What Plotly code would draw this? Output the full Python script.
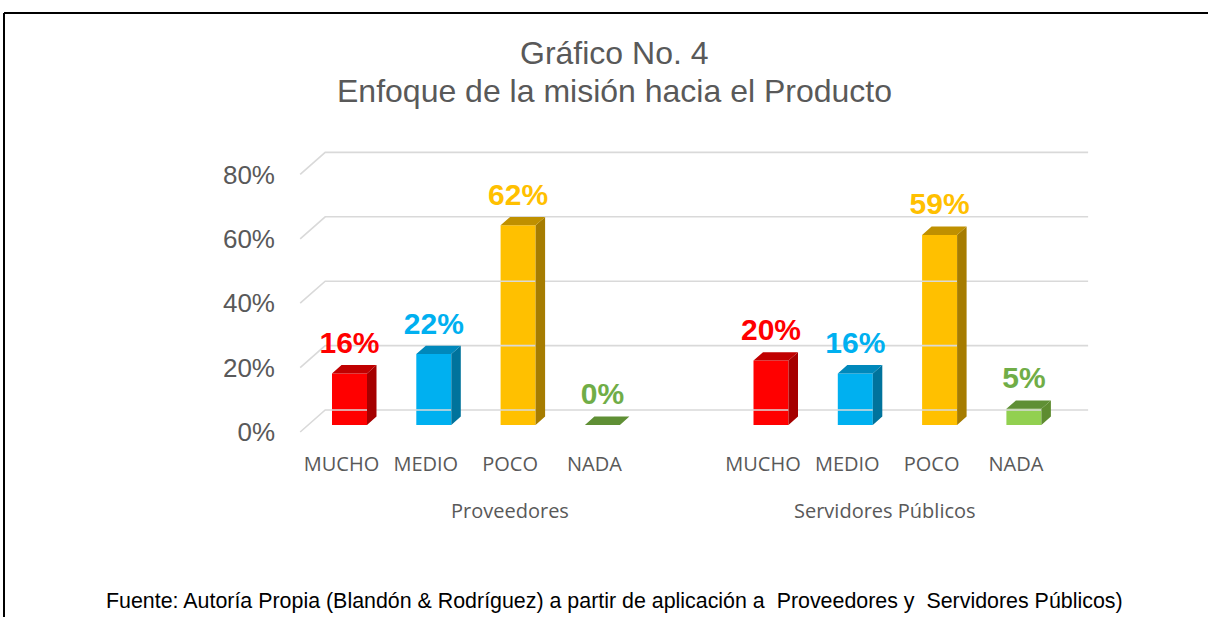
import plotly.graph_objects as go

# ---------------- data ----------------
groups = ["Proveedores", "Servidores Públicos"]
categories = ["MUCHO", "MEDIO", "POCO", "NADA"]
proveedores = [16, 22, 62, 0]
servidores = [20, 16, 59, 5]
y_ticks = [0, 20, 40, 60, 80]
title_lines = ["Gráfico No. 4", "Enfoque de la misión hacia el Producto"]
source_note = ("Fuente: Autoría Propia (Blandón & Rodríguez) a partir de aplicación a  "
               "Proveedores y  Servidores Públicos)")

# ---------------- styles ----------------
front_colors = ["#FF0000", "#00B0F0", "#FFC000", "#92D050"]
side_colors = ["#A50000", "#00739C", "#A67C00", "#5E8C30"]
top_colors = ["#C00000", "#0088BB", "#BF9000", "#5F8F35"]
label_colors = ["#FF0000", "#00B0F0", "#FFC000", "#70AD47"]
GRID = "#D9D9D9"
TXT = "#595959"

W, H = 1208, 617
PX_CAT = 84.3          # pixels per category slot
X0_PX = 341.5          # pixel x of first category (front plane)
Y0_PX = 432            # pixel y of 0% (front plane)
PX_PCT = 3.22          # pixels per percent
DEPTH_X = 25 / PX_CAT  # floor depth, x units
DEPTH_Y = 22 / PX_PCT  # floor depth, y units
BAR_D0, BAR_D1 = 0.32, 0.70
BAR_W = 35 / PX_CAT
GAP = 1
FLOOR_L, FLOOR_R = -0.49, 8.56
LABEL_OFF = 28 / PX_PCT

xrange = [-X0_PX / PX_CAT, (W - X0_PX) / PX_CAT]
yrange = [-(H - Y0_PX) / PX_PCT, Y0_PX / PX_PCT]

series = [proveedores, servidores]
n = len(categories)

fig = go.Figure()

# back-wall gridlines with left floor diagonals
gx, gy = [], []
for t in y_ticks:
    gx += [FLOOR_L, FLOOR_L + DEPTH_X, FLOOR_R + DEPTH_X, None]
    gy += [t, t + DEPTH_Y, t + DEPTH_Y, None]
fig.add_trace(go.Scatter(x=gx, y=gy, mode="lines", line=dict(color=GRID, width=1.6),
                         hoverinfo="skip", showlegend=False))

dd = BAR_D1 - BAR_D0
base = BAR_D0 * DEPTH_Y
lab_x, lab_y, lab_t, lab_c = [], [], [], []
for i, cat in enumerate(categories):
    xs = [g * (n + GAP) + i + BAR_D0 * DEPTH_X for g in range(len(groups))]
    vals = [series[g][i] for g in range(len(groups))]
    fig.add_trace(go.Bar(x=xs, y=vals, base=base, width=BAR_W,
                         marker=dict(color=front_colors[i], line=dict(width=0)),
                         showlegend=False, hoverinfo="skip"))
    sx, sy, tx, ty = [], [], [], []
    for xc, v in zip(xs, vals):
        xl, xr = xc - BAR_W / 2, xc + BAR_W / 2
        top = base + v
        sx += [xr, xr + dd * DEPTH_X, xr + dd * DEPTH_X, xr, xr, None]
        sy += [base, base + dd * DEPTH_Y, top + dd * DEPTH_Y, top, base, None]
        tx += [xl, xr, xr + dd * DEPTH_X, xl + dd * DEPTH_X, xl, None]
        ty += [top, top, top + dd * DEPTH_Y, top + dd * DEPTH_Y, top, None]
        lab_x.append(xc)
        lab_y.append(top + LABEL_OFF)
        lab_t.append(f"{v}%")
        lab_c.append(label_colors[i])
    fig.add_trace(go.Scatter(x=sx, y=sy, mode="lines", fill="toself",
                             fillcolor=side_colors[i], line=dict(width=0),
                             hoverinfo="skip", showlegend=False))
    fig.add_trace(go.Scatter(x=tx, y=ty, mode="lines", fill="toself",
                             fillcolor=top_colors[i], line=dict(width=0),
                             hoverinfo="skip", showlegend=False))

fig.add_trace(go.Scatter(x=lab_x, y=lab_y, mode="text", text=lab_t,
                         textposition="middle center",
                         textfont=dict(family="Liberation Sans, Arial", size=30,
                                       color=lab_c, weight="bold"),
                         hoverinfo="skip", showlegend=False))

tick_pos = [g * (n + GAP) + i for g in range(len(groups)) for i in range(n)]
tick_txt = [c for g in range(len(groups)) for c in categories]

group_x = [2.0, 6.45]
annotations = []
for gx_, name in zip(group_x, groups):
    annotations.append(dict(x=gx_, y=(Y0_PX - 510) / PX_PCT, xref="x", yref="y",
                            text=name, showarrow=False, xanchor="center", yanchor="middle",
                            font=dict(family="Open Sans", size=20, color=TXT)))
for k, (line, yc) in enumerate(zip(title_lines, [53, 91])):
    annotations.append(dict(x=0.5083, y=1 - yc / H, xref="paper", yref="paper",
                            text=line, showarrow=False, xanchor="center", yanchor="middle",
                            font=dict(family="Liberation Sans, Arial", size=32, color=TXT)))
annotations.append(dict(x=614.5 / W, y=1 - 601 / H, xref="paper", yref="paper",
                        text=source_note, showarrow=False, xanchor="center", yanchor="middle",
                        font=dict(family="Liberation Sans, Arial", size=21.4, color="#000000")))

fig.update_layout(
    width=W, height=H,
    margin=dict(l=0, r=0, t=0, b=0),
    paper_bgcolor="white", plot_bgcolor="white",
    barmode="overlay",
    xaxis=dict(range=xrange, tickmode="array", tickvals=tick_pos, ticktext=tick_txt,
               showgrid=False, zeroline=False, showline=False, ticks="",
               anchor="free", position=1 - 450 / H,
               tickfont=dict(family="Open Sans", size=20, color=TXT), fixedrange=True),
    yaxis=dict(range=yrange, tickmode="array", tickvals=y_ticks,
               ticktext=[f"{t}%" for t in y_ticks],
               showgrid=False, zeroline=False, showline=False, ticks="",
               anchor="free", position=275 / W,
               tickfont=dict(family="Liberation Sans, Arial", size=26, color=TXT), fixedrange=True),
    annotations=annotations,
    shapes=[
        dict(type="line", xref="paper", yref="paper", x0=4 / W, x1=1, y0=1 - 13 / H, y1=1 - 13 / H,
             line=dict(color="#000000", width=2)),
        dict(type="line", xref="paper", yref="paper", x0=4 / W, x1=4 / W, y0=1 - 13 / H, y1=0,
             line=dict(color="#000000", width=2)),
    ],
)

fig.write_html("out.html", post_script="document.body.style.margin='0';",
               config={"displayModeBar": False})
